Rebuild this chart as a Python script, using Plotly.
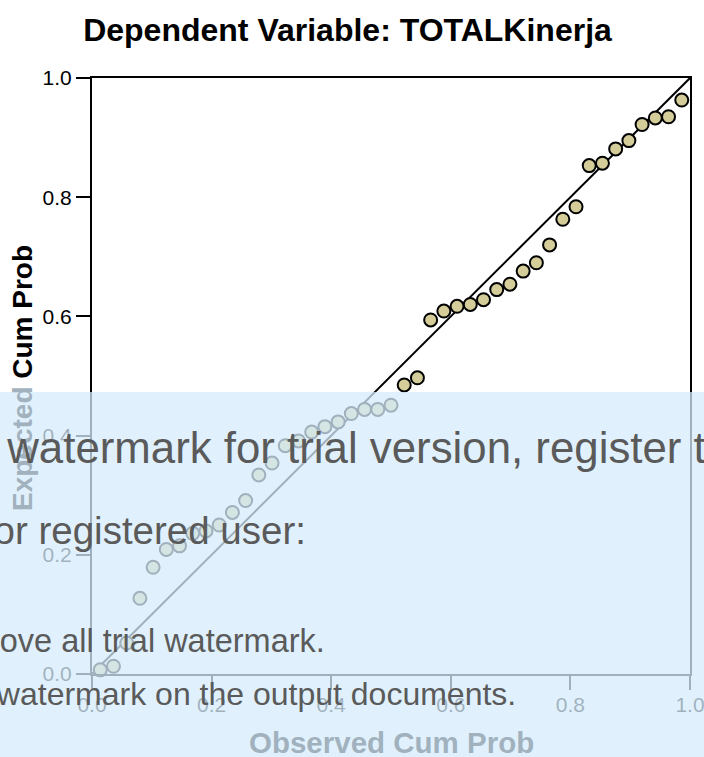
import plotly.graph_objects as go

# ---- data ----
observed_cum_prob = [
    0.0138, 0.0359, 0.0580, 0.0801, 0.1022, 0.1243, 0.1464, 0.1685, 0.1906,
    0.2127, 0.2348, 0.2569, 0.2790, 0.3011, 0.3232, 0.3453, 0.3674, 0.3895,
    0.4116, 0.4337, 0.4558, 0.4779, 0.5000, 0.5221, 0.5442, 0.5663, 0.5884,
    0.6105, 0.6326, 0.6547, 0.6768, 0.6989, 0.7210, 0.7431, 0.7652, 0.7873,
    0.8094, 0.8315, 0.8536, 0.8757, 0.8978, 0.9199, 0.9420, 0.9641, 0.9862,
]
expected_cum_prob = [
    0.007, 0.013, 0.052, 0.127, 0.179, 0.209, 0.215, 0.236, 0.240,
    0.250, 0.271, 0.291, 0.334, 0.354, 0.383, 0.391, 0.406, 0.415,
    0.423, 0.437, 0.444, 0.444, 0.451, 0.485, 0.497, 0.594, 0.609,
    0.617, 0.620, 0.628, 0.645, 0.654, 0.676, 0.690, 0.720, 0.763,
    0.784, 0.853, 0.857, 0.881, 0.895, 0.922, 0.933, 0.935, 0.963,
]
diagonal = [0.0, 1.0]
tick_values = [0.0, 0.2, 0.4, 0.6, 0.8, 1.0]
tick_labels = ["0.0", "0.2", "0.4", "0.6", "0.8", "1.0"]

title_text = "Dependent Variable: TOTALKinerja"
x_title = "Observed Cum Prob"
y_title_faded = "Expected"
y_title_rest = " Cum Prob"
watermark_lines = [
    "This is a watermark for trial version, register to get full one!",
    "Benefits for registered user:",
    "1. Can remove all trial watermark.",
    "2. No trial watermark on the output documents.",
]

FONT = "Liberation Sans, Arial, Helvetica, sans-serif"
FADED = "#A1B2BE"

fig = go.Figure()
fig.add_trace(go.Scatter(
    x=diagonal, y=diagonal, mode="lines",
    line=dict(color="black", width=2),
    hoverinfo="skip", showlegend=False,
))
fig.add_trace(go.Scatter(
    x=observed_cum_prob, y=expected_cum_prob, mode="markers",
    marker=dict(size=13, color="#D4CD9A", line=dict(color="black", width=2)),
    cliponaxis=False, showlegend=False,
))

axis_style = dict(
    range=[0, 1], tickmode="array", tickvals=tick_values, ticktext=tick_labels,
    showgrid=False, zeroline=False, showline=True, linecolor="black",
    linewidth=2, mirror=True, ticks="outside", ticklen=14, tickwidth=2,
    tickcolor="black", tickfont=dict(size=21, color="black", family=FONT),
    fixedrange=True, ticklabeloverflow="allow", automargin=False,
)

fig.update_layout(
    width=704, height=757,
    margin=dict(l=92, r=14, t=78, b=83, autoexpand=False),
    paper_bgcolor="white", plot_bgcolor="white",
    font=dict(family=FONT, color="black"),
    title=dict(text="<b>" + title_text + "</b>", x=0.4936, xanchor="center",
               y=1 - 30 / 757, yanchor="middle",
               font=dict(size=32, family=FONT, color="black")),
    xaxis=dict(axis_style, ticklabelstandoff=-3),
    yaxis=axis_style,
    showlegend=False,
)

# watermark overlay (semi-transparent light blue band)
fig.add_shape(type="rect", xref="paper", yref="paper",
              x0=-0.2, x1=1.1, y0=-0.2, y1=(674 - 392) / 596,
              fillcolor="rgba(213,236,252,0.75)", line=dict(width=0),
              layer="above")

# axis titles
fig.add_annotation(text="<b>" + x_title + "</b>", xref="paper", yref="paper",
                   x=0.5, y=(674 - 742) / 596, xanchor="center", yanchor="middle",
                   showarrow=False, font=dict(size=29.5, color=FADED, family=FONT))
fig.add_annotation(text="<b><span style='color:" + FADED + "'>" + y_title_faded
                   + "</span>" + y_title_rest + "</b>",
                   xref="paper", yref="paper", textangle=-90,
                   x=(22 - 92) / 598, y=(674 - 378) / 596,
                   xanchor="center", yanchor="middle",
                   showarrow=False, font=dict(size=28, color="black", family=FONT))

# watermark text
wm = [
    (watermark_lines[0], 43.8, -170, "left", 447),
    (watermark_lines[1], 38.5, 308, "right", 530),
    (watermark_lines[2], 32.5, 327, "right", 641),
    (watermark_lines[3], 32, 518, "right", 694),
]
for txt, size, px, anchor, py in wm:
    fig.add_annotation(text=txt, xref="paper", yref="paper",
                       x=(px - 92) / 598, y=(674 - py) / 596,
                       xanchor=anchor, yanchor="middle", showarrow=False,
                       font=dict(size=size, color="#5A5A5A", family=FONT))

fig.write_html(
    "out.html",
    config={"displayModeBar": False, "staticPlot": True},
    post_script="document.body.style.margin='0';document.body.style.overflow='hidden';",
)
